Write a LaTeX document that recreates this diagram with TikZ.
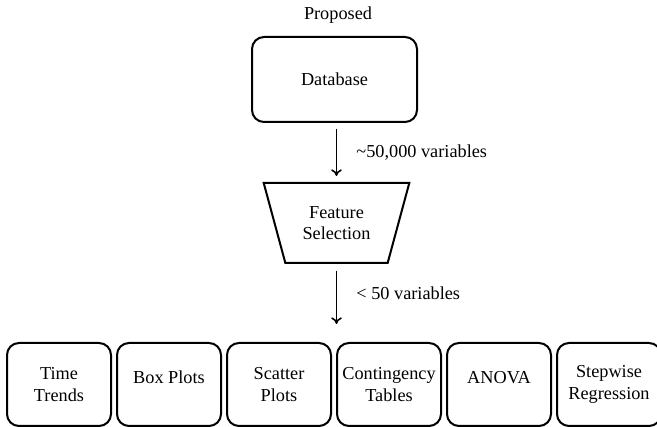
\documentclass[tikz,border=0pt]{standalone}
\usepackage{fontspec}
\setmainfont{Liberation Serif}
\usetikzlibrary{shapes.geometric,arrows.meta}

\begin{document}
\begin{tikzpicture}[x=0.75pt,y=-0.75pt,
  font=\rmfamily\fontsize{13.7}{16}\selectfont,
  box/.style={draw,line width=1.5pt,rounded corners=9pt,align=center,
    minimum width=78pt,minimum height=62.25pt,inner sep=1pt},
  funnel/.style={draw,line width=1.5pt,trapezium,shape border rotate=180,
    trapezium angle=69,trapezium stretches=true,align=center,
    minimum width=110pt,minimum height=60pt},
  link/.style={-{To[length=5pt,width=8pt]},line width=1.2pt}]
\useasboundingbox (0,0) rectangle (657,427);
\clip (0,0) rectangle (657,427);

\node (prop) at (338,15) {Proposed};
\node[box,minimum width=123.75pt,minimum height=63.75pt] (db) at (334.5,79.5) {Database};
\node[funnel] (fs) at (336.5,223) {Feature\\Selection};

% methods row
\foreach \lbl [count=\i] in {{Time\\Trends},{Box Plots\\[-5pt]\mbox{}},{Scatter\\Plots},
    {Contingency\\Tables},{ANOVA\\[-5pt]\mbox{}},{Stepwise\\Regression}}
  \node[box] (m\i) at ({59+110*(\i-1)},384.5) {\lbl};

\draw[link,shorten <=4.5pt,shorten >=4.5pt] (fs.north |- db.south) -- (fs.north)
  node[midway,right,xshift=11pt] (nvar) {\textasciitilde 50,000 variables};
\draw[link,shorten <=5pt,shorten >=13.5pt] (fs.south) -- (fs.south |- m4.north)
  node[pos=0.38,right,xshift=11pt] (nsel) {< 50 variables};
\end{tikzpicture}
\end{document}
